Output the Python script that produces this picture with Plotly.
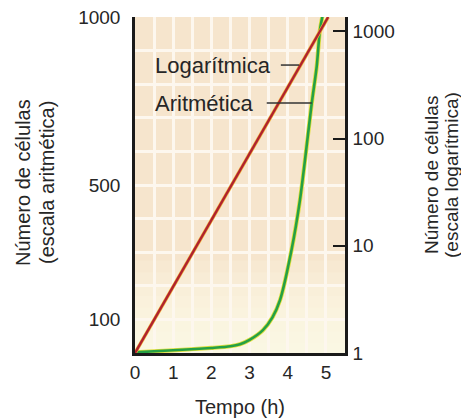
import plotly.graph_objects as go

# ---- data ----
x_tick_vals = [0, 1, 2, 3, 4, 5]
left_tick_vals = [100, 500, 1000]
right_tick_vals = [1, 10, 100, 1000]
right_tick_text = ["1", "10", "100", "1000"]

# arithmetic-scale curve (green, left axis)
arit_t = [0, 1, 2, 2.5, 2.75, 3.0, 3.35, 3.6, 3.8, 4.1, 4.32, 4.63, 4.76, 4.84, 4.91]
arit_n = [2, 8, 15, 20, 26, 39, 68, 106, 158, 307, 455, 744, 854, 958, 1003]

# logarithmic-scale line (red, right log axis)
log_t = [0, 5.06]
log_n = [1, 1365]

FONT = "Liberation Sans, Arial, Helvetica, sans-serif"
TXT = "#262626"

# page body has an 8px margin; the figure is sized/placed to compensate
W, H = 461, 412
PL, PR, PT, PB = 127, 124, 9, 67   # plot area: x 127..337, y 9..345 (figure px)
PW, PH = W - PL - PR, H - PT - PB


def px_x(ref_x):
    """reference-image x pixel -> paper coordinate"""
    return (ref_x - 8 - PL) / PW


def px_y(ref_y):
    """reference-image y pixel -> paper coordinate"""
    return (H - PB - (ref_y - 8)) / PH


fig = go.Figure()

# halo + line for green
fig.add_trace(go.Scatter(x=arit_t, y=arit_n, mode="lines", yaxis="y",
                         line=dict(color="#dede3c", width=4.2, shape="spline", smoothing=0.8),
                         hoverinfo="skip", showlegend=False))
fig.add_trace(go.Scatter(x=arit_t, y=arit_n, mode="lines", yaxis="y",
                         line=dict(color="#25a045", width=2.6, shape="spline", smoothing=0.8),
                         showlegend=False))
# halo + line for red
fig.add_trace(go.Scatter(x=log_t, y=log_n, mode="lines", yaxis="y2",
                         line=dict(color="#f0b840", width=3.6),
                         hoverinfo="skip", showlegend=False))
fig.add_trace(go.Scatter(x=log_t, y=log_n, mode="lines", yaxis="y2",
                         line=dict(color="#b0222e", width=2.4),
                         showlegend=False))

# light fading toward the bottom of the plot
shapes = []
for i in range(8):
    shapes.append(dict(type="rect", xref="paper", yref="paper", layer="below",
                       x0=0, x1=1, y0=0, y1=0.03 + i * 0.035,
                       fillcolor="rgba(255,252,238,0.16)", line=dict(width=0)))

# pointer lines for labels
shapes.append(dict(type="line", xref="x", yref="y", x0=3.82, x1=4.3, y0=857, y1=857,
                   line=dict(color="#333333", width=1.5)))
shapes.append(dict(type="line", xref="x", yref="y", x0=3.45, x1=4.63, y0=744, y1=744,
                   line=dict(color="#333333", width=1.5)))

annotations = [
    dict(text="Logarítmica", x=0.47, y=857, xref="x", yref="y", xanchor="left", yanchor="middle",
         showarrow=False, font=dict(family=FONT, size=22, color=TXT)),
    dict(text="Aritmética", x=0.47, y=744, xref="x", yref="y", xanchor="left", yanchor="middle",
         showarrow=False, font=dict(family=FONT, size=22, color=TXT)),
    # x title
    dict(text="Tempo (h)", x=px_x(240), y=px_y(407), xref="paper", yref="paper",
         xanchor="center", yanchor="middle", showarrow=False,
         font=dict(family=FONT, size=20, color=TXT)),
    # left title
    dict(text="Número de células", x=px_x(23), y=px_y(183), xref="paper", yref="paper",
         xanchor="center", yanchor="middle", textangle=-90, showarrow=False,
         font=dict(family=FONT, size=20, color=TXT)),
    dict(text="(escala aritmética)", x=px_x(47), y=px_y(183), xref="paper", yref="paper",
         xanchor="center", yanchor="middle", textangle=-90, showarrow=False,
         font=dict(family=FONT, size=20, color=TXT)),
    # right title
    dict(text="Número de células", x=px_x(431), y=px_y(175), xref="paper", yref="paper",
         xanchor="center", yanchor="middle", textangle=-90, showarrow=False,
         font=dict(family=FONT, size=19, color=TXT)),
    dict(text="(escala logarítmica)", x=px_x(451), y=px_y(175), xref="paper", yref="paper",
         xanchor="center", yanchor="middle", textangle=-90, showarrow=False,
         font=dict(family=FONT, size=19, color=TXT)),
]

fig.update_layout(
    width=W, height=H,
    margin=dict(l=PL, r=PR, t=PT, b=PB, autoexpand=False),
    paper_bgcolor="white",
    plot_bgcolor="#f6e5cd",
    font=dict(family=FONT, color=TXT),
    showlegend=False,
    shapes=shapes,
    annotations=annotations,
    xaxis=dict(range=[0, 5.5], tickvals=x_tick_vals, showgrid=True, gridcolor="#fdf7ee", gridwidth=2.5,
               minor=dict(dtick=0.5, tick0=0, showgrid=True, gridcolor="#fdf7ee", gridwidth=2.5),
               showline=True, linecolor="#1a1a1a", linewidth=2.5, ticks="", zeroline=False,
               tickfont=dict(family=FONT, size=19, color=TXT), ticklabelstandoff=0,
               ticklabeloverflow="allow", automargin=False),
    yaxis=dict(range=[0, 1000], tickvals=left_tick_vals, showgrid=False,
               minor=dict(dtick=100, tick0=0, showgrid=True, gridcolor="#fdf7ee", gridwidth=2.5),
               showline=True, linecolor="#1a1a1a", linewidth=2.5, ticks="", zeroline=False,
               tickfont=dict(family=FONT, size=19, color=TXT), ticklabelstandoff=8,
               ticklabeloverflow="allow", automargin=False),
    yaxis2=dict(type="log", range=[0, 3.135], overlaying="y", side="right", anchor="x",
                tickvals=right_tick_vals, ticktext=right_tick_text, showgrid=False,
                showline=True, linecolor="#1a1a1a", linewidth=2.5,
                ticks="inside", ticklen=12, tickwidth=2, tickcolor="#1a1a1a", zeroline=False,
                tickfont=dict(family=FONT, size=19, color=TXT), ticklabelstandoff=1,
                ticklabeloverflow="allow", automargin=False),
)

fig.write_html("out.html")
